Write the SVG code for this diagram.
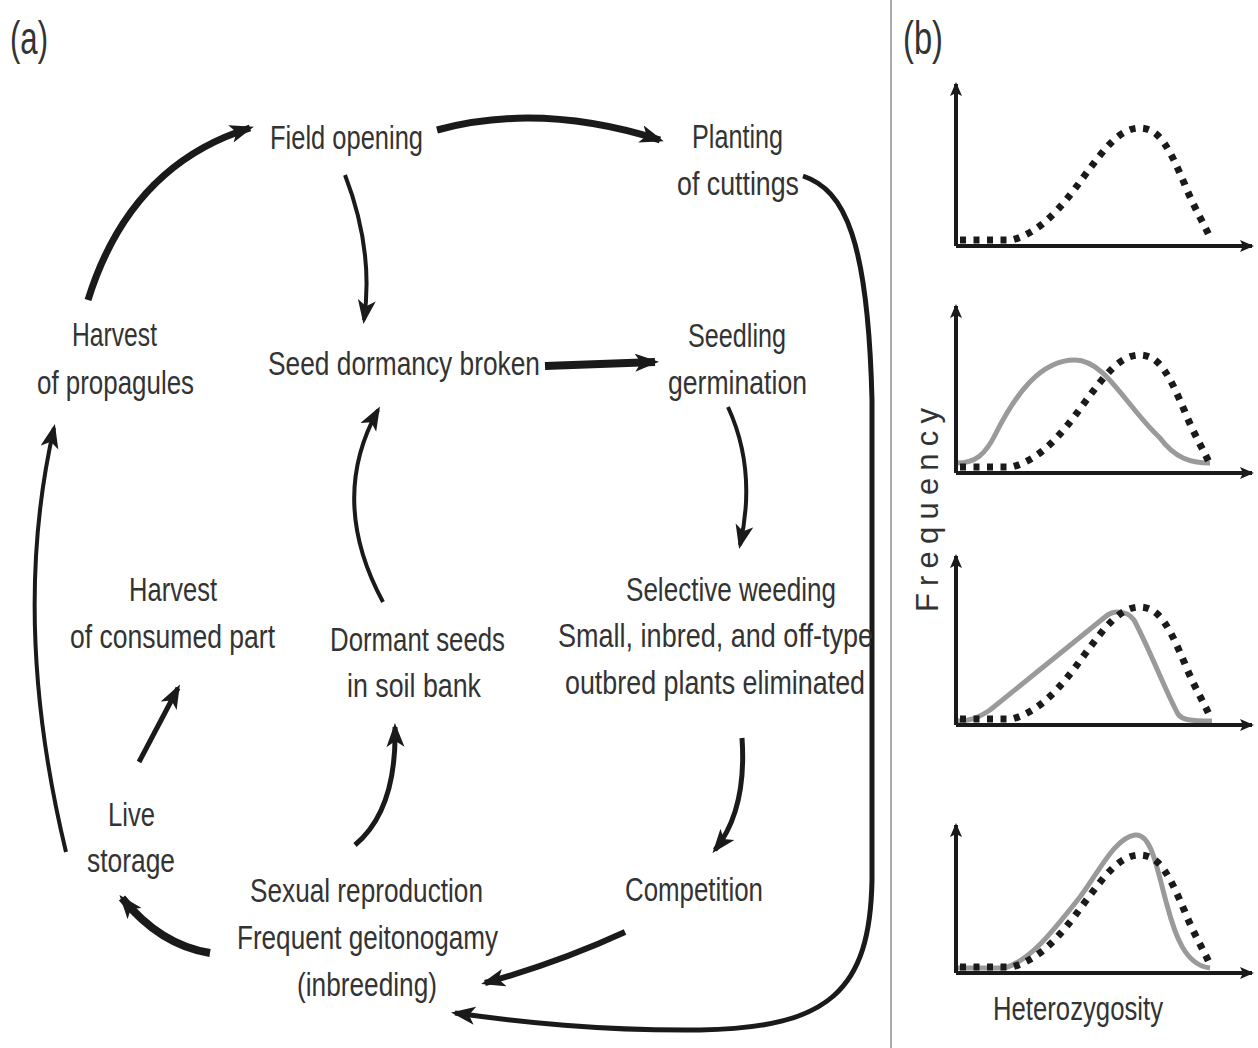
<svg xmlns="http://www.w3.org/2000/svg" xmlns:xlink="http://www.w3.org/1999/xlink" width="1258" height="1048" viewBox="0 0 1258 1048">
<style>
.t{font-family:"Liberation Sans",Arial,sans-serif;font-size:34px;fill:#333;}
.lbl{font-family:"Liberation Sans",Arial,sans-serif;font-size:46px;fill:#333;}
.c{fill:none;stroke:#1a1a1a;stroke-linecap:butt;}
.ax{fill:none;stroke:#1a1a1a;stroke-width:4;}
.gray{fill:none;stroke:#9a9a9a;stroke-width:5;stroke-linejoin:round;}
.dots{fill:none;stroke:#1a1a1a;stroke-width:7;stroke-dasharray:6 7.5;}
</style>
<defs>
<marker id="ah" markerUnits="userSpaceOnUse" markerWidth="26" markerHeight="20" refX="20" refY="9" orient="auto">
<path d="M0,0 L24,9 L0,18 L6,9 z" fill="#1a1a1a"/>
</marker>
<marker id="axh" markerUnits="userSpaceOnUse" markerWidth="16" markerHeight="14" refX="12" refY="6" orient="auto">
<path d="M0,0 L14,6 L0,12 L3,6 z" fill="#1a1a1a"/>
</marker>
<path id="dotcurve" d="M960,-6 L1012,-6 C1040,-14 1060,-36 1085,-71 C1105,-98 1120,-118 1140,-118 C1160,-118 1170,-96 1185,-61 C1195,-36 1205,-21 1211,-6"/>
</defs>
<rect width="1258" height="1048" fill="#fff"/>
<line x1="891" y1="0" x2="891" y2="1048" stroke="#aaa" stroke-width="2"/>
<text class="lbl" x="10" y="54" textLength="38" lengthAdjust="spacingAndGlyphs">(a)</text>
<text class="lbl" x="903" y="54" textLength="40" lengthAdjust="spacingAndGlyphs">(b)</text>

<g id="connectors">
<path class="c" stroke-width="7" d="M88,300 Q130,165 250,128" marker-end="url(#ah)"/>
<path class="c" stroke-width="7" d="M437,130 Q540,102 660,140" marker-end="url(#ah)"/>
<path class="c" stroke-width="4" d="M345,175 Q374,250 364,320" marker-end="url(#ah)"/>
<path class="c" stroke-width="8" d="M545,366 L655,362" marker-end="url(#ah)"/>
<path class="c" stroke-width="4" d="M728,407 Q757,470 740,545" marker-end="url(#ah)"/>
<path class="c" stroke-width="5" d="M742,738 Q747,810 715,850" marker-end="url(#ah)"/>
<path class="c" stroke-width="6" d="M625,932 Q560,962 485,983" marker-end="url(#ah)"/>
<path class="c" stroke-width="5" d="M803,176 C845,190 868,240 872,400 L872,880 C870,990 830,1028 700,1030 C600,1031 520,1022 455,1013" marker-end="url(#ah)"/>
<path class="c" stroke-width="5" d="M355,845 Q397,810 395,727" marker-end="url(#ah)"/>
<path class="c" stroke-width="4" d="M383,602 Q328,500 378,410" marker-end="url(#ah)"/>
<path class="c" stroke-width="8" d="M210,953 Q160,945 122,898" marker-end="url(#ah)"/>
<path class="c" stroke-width="5" d="M139,762 L178,688" marker-end="url(#ah)"/>
<path class="c" stroke-width="4" d="M66,852 Q10,620 54,428" marker-end="url(#ah)"/>
</g>

<g id="field-opening"><text class="t" x="270" y="149" textLength="153" lengthAdjust="spacingAndGlyphs">Field opening</text></g>
<g id="planting-cuttings">
<text class="t" x="692" y="148" textLength="91" lengthAdjust="spacingAndGlyphs">Planting</text>
<text class="t" x="677" y="195" textLength="122" lengthAdjust="spacingAndGlyphs">of cuttings</text>
</g>
<g id="harvest-propagules">
<text class="t" x="72" y="346" textLength="85" lengthAdjust="spacingAndGlyphs">Harvest</text>
<text class="t" x="37" y="394" textLength="157" lengthAdjust="spacingAndGlyphs">of propagules</text>
</g>
<g id="seed-dormancy-broken"><text class="t" x="268" y="375" textLength="272" lengthAdjust="spacingAndGlyphs">Seed dormancy broken</text></g>
<g id="seedling-germination">
<text class="t" x="688" y="347" textLength="98" lengthAdjust="spacingAndGlyphs">Seedling</text>
<text class="t" x="668" y="394" textLength="139" lengthAdjust="spacingAndGlyphs">germination</text>
</g>
<g id="harvest-consumed">
<text class="t" x="129" y="601" textLength="88" lengthAdjust="spacingAndGlyphs">Harvest</text>
<text class="t" x="70" y="648" textLength="205" lengthAdjust="spacingAndGlyphs">of consumed part</text>
</g>
<g id="dormant-seeds">
<text class="t" x="330" y="651" textLength="175" lengthAdjust="spacingAndGlyphs">Dormant seeds</text>
<text class="t" x="347" y="697" textLength="134" lengthAdjust="spacingAndGlyphs">in soil bank</text>
</g>
<g id="selective-weeding">
<text class="t" x="626" y="601" textLength="210" lengthAdjust="spacingAndGlyphs">Selective weeding</text>
<text class="t" x="558" y="647" textLength="315" lengthAdjust="spacingAndGlyphs">Small, inbred, and off-type</text>
<text class="t" x="565" y="694" textLength="300" lengthAdjust="spacingAndGlyphs">outbred plants eliminated</text>
</g>
<g id="live-storage">
<text class="t" x="108" y="826" textLength="47" lengthAdjust="spacingAndGlyphs">Live</text>
<text class="t" x="87" y="872" textLength="88" lengthAdjust="spacingAndGlyphs">storage</text>
</g>
<g id="sexual-reproduction">
<text class="t" x="250" y="902" textLength="233" lengthAdjust="spacingAndGlyphs">Sexual reproduction</text>
<text class="t" x="237" y="949" textLength="261" lengthAdjust="spacingAndGlyphs">Frequent geitonogamy</text>
<text class="t" x="297" y="996" textLength="140" lengthAdjust="spacingAndGlyphs">(inbreeding)</text>
</g>
<g id="competition"><text class="t" x="625" y="901" textLength="138" lengthAdjust="spacingAndGlyphs">Competition</text></g>

<g id="panel-b">
<text class="t" transform="translate(938,612) rotate(-90)" x="0" y="0" textLength="204" lengthAdjust="spacing" style="font-size:31px">Frequency</text>
<text class="t" x="993" y="1020" textLength="170" lengthAdjust="spacingAndGlyphs">Heterozygosity</text>
<g id="chart1">
<use xlink:href="#dotcurve" href="#dotcurve" class="dots" transform="translate(0,246)"/>
<path class="ax" d="M956,246 L956,84" marker-end="url(#axh)"/>
<path class="ax" d="M956,246 L1252,246" marker-end="url(#axh)"/>
</g>
<g id="chart2">
<path class="gray" d="M957,463 C975,463 985,455 995,435 C1015,395 1040,360 1075,360 C1105,360 1125,405 1160,438 C1175,458 1190,463 1210,463"/>
<use xlink:href="#dotcurve" href="#dotcurve" class="dots" transform="translate(0,473)"/>
<path class="ax" d="M956,473 L956,306" marker-end="url(#axh)"/>
<path class="ax" d="M956,473 L1252,473" marker-end="url(#axh)"/>
</g>
<g id="chart3">
<path class="gray" d="M957,721 C970,721 978,718 990,710 L1105,617 C1112,611 1126,609 1134,620 C1150,650 1165,690 1178,714 C1182,720 1190,721 1212,721"/>
<use xlink:href="#dotcurve" href="#dotcurve" class="dots" transform="translate(0,725)"/>
<path class="ax" d="M956,725 L956,556" marker-end="url(#axh)"/>
<path class="ax" d="M956,725 L1252,725" marker-end="url(#axh)"/>
</g>
<g id="chart4">
<path class="gray" d="M957,968 L1005,968 C1030,960 1050,935 1080,897 C1100,870 1115,838 1135,835 C1152,833 1157,870 1167,905 C1175,935 1185,965 1210,968"/>
<use xlink:href="#dotcurve" href="#dotcurve" class="dots" transform="translate(0,973)"/>
<path class="ax" d="M956,973 L956,825" marker-end="url(#axh)"/>
<path class="ax" d="M956,973 L1252,973" marker-end="url(#axh)"/>
</g>
</g>
</svg>
